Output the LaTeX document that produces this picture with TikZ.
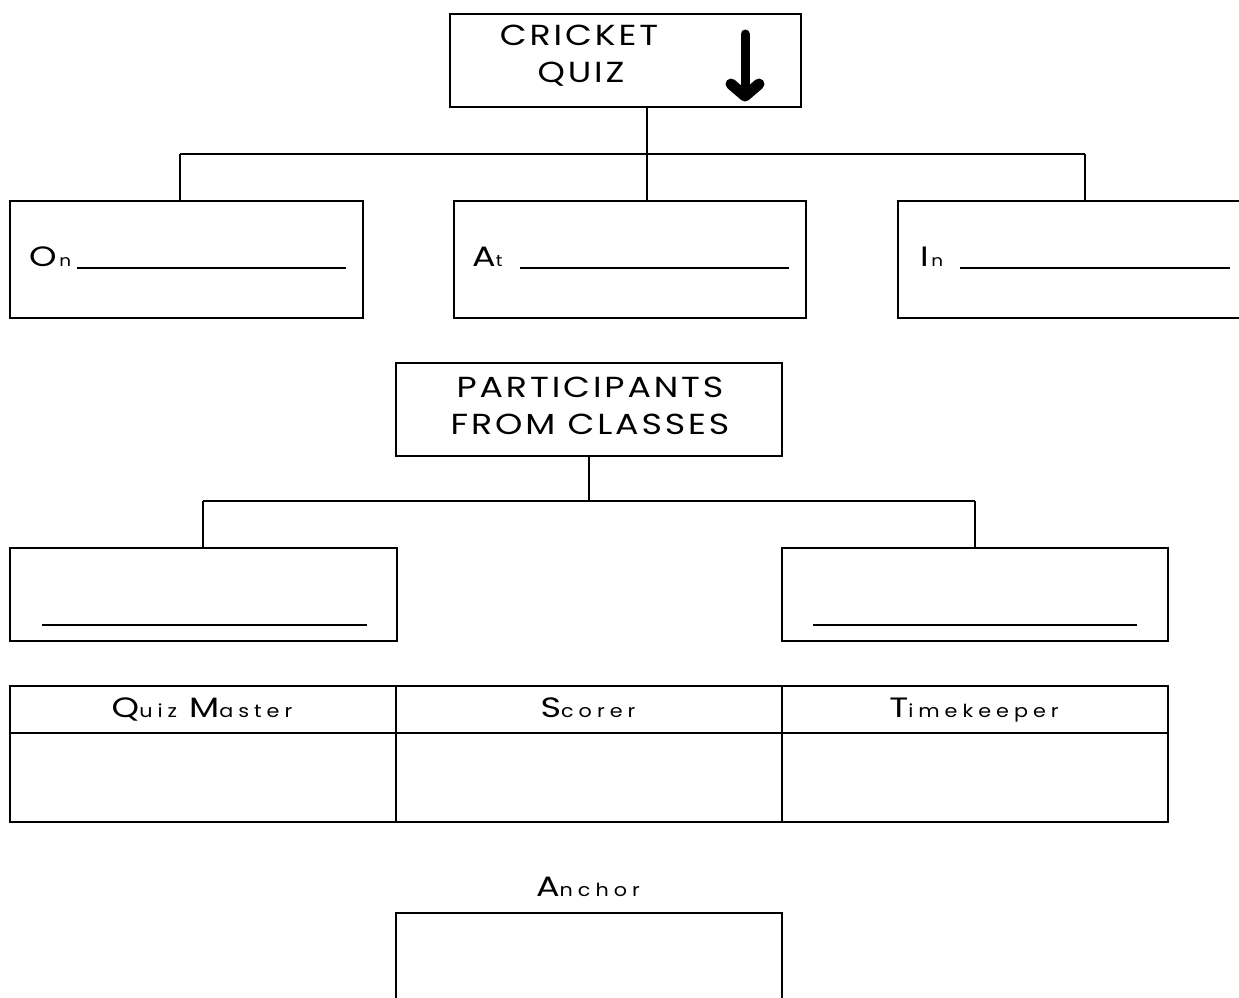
\documentclass[tikz,border=0pt]{standalone}
\usepackage{fontspec}
\setmainfont{Poppins}
\newfontfamily\capfont[FakeStretch=1.2, LetterSpace=10]{Poppins}
\newfontfamily\upfont[FakeStretch=1.25]{Poppins}
\newfontfamily\lspfont[FakeStretch=1.15, LetterSpace=28]{Poppins}
\newcommand\UpC[2][28]{{\upfont\fontsize{#1}{#1}\selectfont #2}}
\newcommand\LoC[2][18]{{\lspfont\fontsize{#1}{#1}\selectfont #2}}
\begin{document}
\begin{tikzpicture}[x=1pt,y=-1pt,
  box/.style={draw, line width=1.7pt, inner sep=0pt, minimum width=#1},
  box/.default=350pt,
  conn/.style={line width=1.5pt},
  uline/.style={line width=1.3pt},
  lbl/.style={anchor=base, inner sep=0pt},
  head/.style={anchor=base, inner sep=0pt, font=\capfont\fontsize{29}{29}\selectfont}]
\useasboundingbox (0,0) rectangle (1239,997);
\fill[white] (0,0) rectangle (1239,997);

% top box
\node[box=351pt, minimum height=93pt] (top) at (625.5,60.5) {};
\node[head] (t1) at (579,45) {CRICKET};
\node[head] (t2) at (581,82) {QUIZ};
\draw[line width=9pt, line cap=round] (745,34) -- (745,90);
\draw[line width=11pt, line cap=round, line join=round] (731,84) -- (745,96) -- (759,84);

% first row
\node[box=353pt, minimum height=117pt] (on) at (186.5,259.5) {};
\node[box=352pt, minimum height=117pt] (at) at (630,259.5) {};
\node[box=352pt, minimum height=117pt] (in) at (1074,259.5) {};
\coordinate (j1) at (647,154);
\coordinate (l1) at (180,154);
\coordinate (r1) at (1085,154);
\draw[conn] (top.south -| j1) -- (j1 |- at.north);
\draw[conn] (l1) -- (r1);
\draw[conn] (l1) -- (l1 |- on.north);
\draw[conn] (r1) -- (r1 |- in.north);

\node[lbl, anchor=base west] (onl) at (29,266) {\UpC{O}\LoC[16]{\,n}};
\draw[uline] (77,268) -- (346,268);
\node[lbl, anchor=base west] (atl) at (472,266) {\UpC{A}\LoC[16]{t}};
\draw[uline] (520,268) -- (789,268);
\node[lbl, anchor=base west] (inl) at (920,266) {\UpC{I}\LoC[16]{\,n}};
\draw[uline] (960,268) -- (1230,268);

% participants
\node[box=386pt, minimum height=93pt] (part) at (589,409.5) {};
\node[head] (p1) at (590,397) {PARTICIPANTS};
\node[head] (p2) at (590,434) {FROM CLASSES};
\coordinate (j2) at (589,501);
\coordinate (l2) at (203,501);
\coordinate (r2) at (975,501);
\node[box=387pt, minimum height=93pt] (cl) at (203.5,594.5) {};
\node[box=386pt, minimum height=93pt] (cr) at (975,594.5) {};
\draw[conn] (part.south -| j2) -- (j2);
\draw[conn] (l2) -- (r2);
\draw[conn] (l2) -- (l2 |- cl.north);
\draw[conn] (r2) -- (r2 |- cr.north);
\draw[uline] (42,625) -- (367,625);
\draw[uline] (813,625) -- (1137,625);

% table
\node[box=386pt, minimum height=47pt] (h1) at (203,709.5) {};
\node[box=386pt, minimum height=47pt] (h2) at (589,709.5) {};
\node[box=386pt, minimum height=47pt] (h3) at (975,709.5) {};
\node[box=386pt, minimum height=89pt] (b1) at (203,777.5) {};
\node[box=386pt, minimum height=89pt] (b2) at (589,777.5) {};
\node[box=386pt, minimum height=89pt] (b3) at (975,777.5) {};
\node[lbl] (qm) at (202,717) {\UpC{Q}\LoC{uiz}\hspace{12pt}\UpC{M}\LoC{aster}};
\node[lbl] (sc) at (588,717) {\UpC{S}\LoC{corer}};
\node[lbl] (tk) at (974,717) {\UpC{T}\LoC{imekeeper}};

% anchor
\node[lbl] (an) at (588,896) {\UpC{A}\LoC{nchor}};
\node[box=386pt, minimum height=100pt] (anb) at (589,963) {};
\end{tikzpicture}
\end{document}
